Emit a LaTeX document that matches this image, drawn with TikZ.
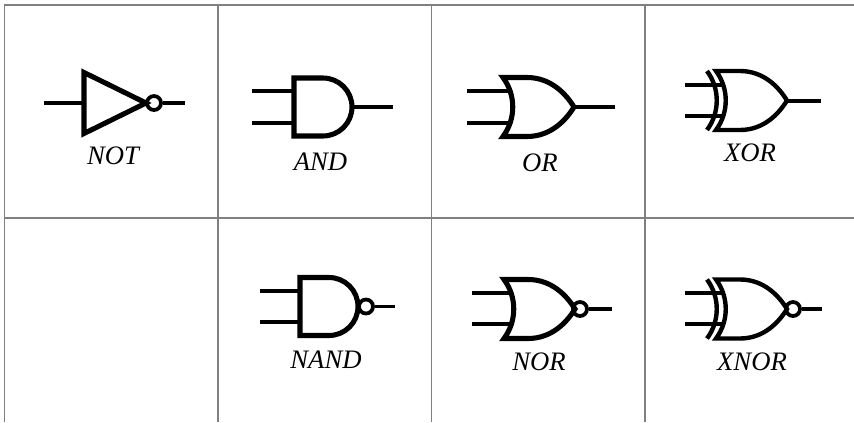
\documentclass[tikz,border=0pt]{standalone}
\usepackage{fontspec}
\setmainfont{Liberation Serif}
\usetikzlibrary{positioning}

\tikzset{
  body/.style={line width=3.8pt, miter limit=10},
  thinbody/.style={line width=3.3pt, miter limit=10},
  wire/.style={line width=2.4pt},
  bubble/.style={line width=2.8pt},
  cellline/.style={draw=gray, line width=0.9pt},
  gatelabel/.style={inner sep=0pt, font=\fontsize{20}{24}\selectfont\itshape},
  pics/andbody/.style={code={
    \draw[body] (0,-29) -- (29,-29) arc[start angle=90, end angle=-90, x radius=29, y radius=-29] -- (0,29) -- cycle;
    \coordinate (-a) at (0,-16);
    \coordinate (-b) at (0,16);
    \coordinate (-tip) at (58,0);
  }},
  pics/orbody/.style={code={
    \draw[body] (0,-29.5) -- (24,-29.5) .. controls (48,-29.5) and (63,-13) .. (71,0)
      .. controls (63,13) and (48,29.5) .. (24,29.5) -- (0,29.5)
      .. controls (13,12) and (13,-12) .. (0,-29.5) -- cycle;
    \coordinate (-a) at (8,-16);
    \coordinate (-b) at (8,16);
    \coordinate (-tip) at (71,0);
  }},
  pics/xorbody/.style={code={
    \draw[thinbody] (0,-29.5) -- (24,-29.5) .. controls (48,-29.5) and (63,-13) .. (71,0)
      .. controls (63,13) and (48,29.5) .. (24,29.5) -- (0,29.5)
      .. controls (13,12) and (13,-12) .. (0,-29.5) -- cycle;
    \draw[thinbody] (-9,-29.5) .. controls (4,-12) and (4,12) .. (-9,29.5);
    \coordinate (-a) at (8,-16);
    \coordinate (-b) at (8,16);
    \coordinate (-tip) at (71,0);
  }}
}

\begin{document}
\begin{tikzpicture}[x=0.75pt, y=-0.75pt]
  \useasboundingbox (0,0) rectangle (854,422);

  % Table
  \draw[cellline] (854,5) -- (4.5,5) -- (4.5,422);
  \draw[cellline] (4.5,218) -- (854,218);
  \draw[cellline] (218,5) -- (218,422);
  \draw[cellline] (431.5,5) -- (431.5,422);
  \draw[cellline] (645,5) -- (645,422);

  % Gates
  \draw[body] (84,72.5) -- (146,103) -- (84,133.5) -- cycle;
  \node (notbubble) [draw, circle, bubble, minimum size=10.5pt, inner sep=0pt] at (154,103) {};
  \coordinate (notin) at (84,103);
  \pic (and) at (294,107) {andbody};
  \pic (or) at (503,107) {orbody};
  \pic (xor) at (716,100.5) {xorbody};
  \pic (nand) at (300,306.5) {andbody};
  \node (nandbubble) [draw, circle, bubble, minimum size=10.5pt, inner sep=0pt] at (366,306.5) {};
  \pic (nor) at (504,309) {orbody};
  \node (norbubble) [draw, circle, bubble, minimum size=10.5pt, inner sep=0pt] at (580,309) {};
  \pic (xnor) at (716,309) {xorbody};
  \node (xnorbubble) [draw, circle, bubble, minimum size=10.5pt, inner sep=0pt] at (793,309) {};

  % Free wire ends
  \coordinate (notfree) at (44,103);
  \coordinate (notend) at (185,103);
  \coordinate (andfreea) at (252,91);
  \coordinate (andfreeb) at (252,123);
  \coordinate (andend) at (393,107);
  \coordinate (orfreea) at (467,91);
  \coordinate (orfreeb) at (467,123);
  \coordinate (orend) at (615,107);
  \coordinate (xorfreea) at (685,85);
  \coordinate (xorfreeb) at (685,116);
  \coordinate (xorend) at (821,101);
  \coordinate (nandfreea) at (260,291);
  \coordinate (nandfreeb) at (260,322);
  \coordinate (nandend) at (395,306.5);
  \coordinate (norfreea) at (472,293);
  \coordinate (norfreeb) at (472,324);
  \coordinate (norend) at (612,309);
  \coordinate (xnorfreea) at (685,293);
  \coordinate (xnorfreeb) at (685,324);
  \coordinate (xnorend) at (822,309);

  % Wires
  \draw[wire] (notfree) -- (notin);
  \draw[wire] (notbubble) -- (notend);
  \draw[wire] (andfreea) -- (and-a |- andfreea);
  \draw[wire] (andfreeb) -- (and-b |- andfreeb);
  \draw[wire] (and-tip) -- (andend);
  \draw[wire] (orfreea) -- (or-a |- orfreea);
  \draw[wire] (orfreeb) -- (or-b |- orfreeb);
  \draw[wire] (or-tip) -- (orend);
  \draw[wire] (xorfreea) -- (xor-a |- xorfreea);
  \draw[wire] (xorfreeb) -- (xor-b |- xorfreeb);
  \draw[wire] (xor-tip |- xorend) -- (xorend);
  \draw[wire] (nandfreea) -- (nand-a |- nandfreea);
  \draw[wire] (nandfreeb) -- (nand-b |- nandfreeb);
  \draw[wire] (nandbubble) -- (nandend);
  \draw[wire] (norfreea) -- (nor-a |- norfreea);
  \draw[wire] (norfreeb) -- (nor-b |- norfreeb);
  \draw[wire] (norbubble) -- (norend);
  \draw[wire] (xnorfreea) -- (xnor-a |- xnorfreea);
  \draw[wire] (xnorfreeb) -- (xnor-b |- xnorfreeb);
  \draw[wire] (xnorbubble) -- (xnorend);

  % Labels
  \node (notlabel) [gatelabel] at (113,156) {NOT};
  \node (andlabel) [gatelabel] at (320.5,162) {AND};
  \node (orlabel) [gatelabel] at (540,163) {OR};
  \node (xorlabel) [gatelabel] at (750,153) {XOR};
  \node (nandlabel) [gatelabel] at (326,360) {NAND};
  \node (norlabel) [gatelabel] at (539,362) {NOR};
  \node (xnorlabel) [gatelabel] at (752,362) {XNOR};

\end{tikzpicture}
\end{document}
